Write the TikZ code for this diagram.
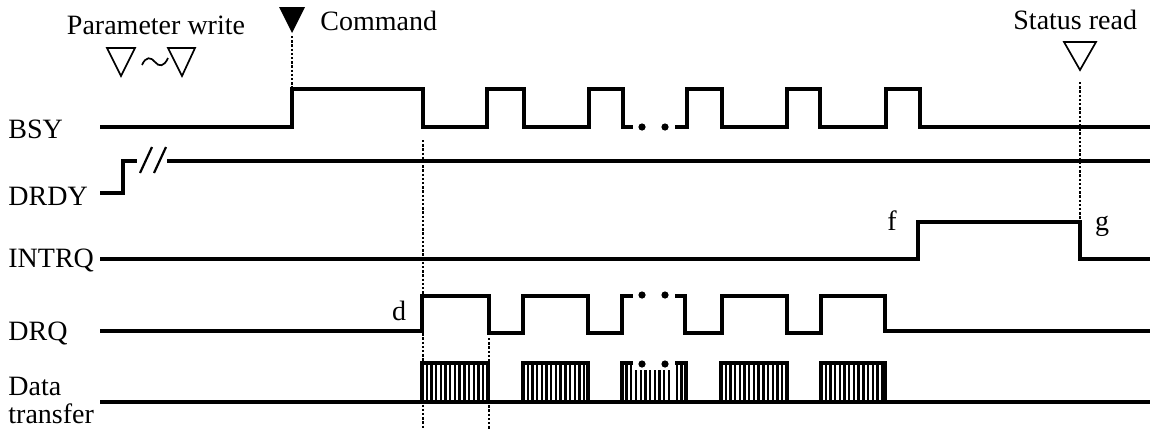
\documentclass[tikz,border=0pt]{standalone}
\usepackage{fontspec}
\setmainfont{Liberation Serif}
\begin{document}
\begin{tikzpicture}[x=0.5pt,y=-0.5pt,
  sig/.style={line width=1.6pt,line join=miter,line cap=butt},
  vdot/.style={line width=1.3pt,dash pattern=on 1.2pt off 0.9pt},
  hatch/.style={line width=1.2pt},
  mk/.style={line width=0.85pt,line join=miter},
  lbl/.style={inner sep=0pt,font=\fontsize{14}{16}\selectfont},
  dotc/.style={fill=black}]
\useasboundingbox (0,0) rectangle (1150,429);
\newcommand{\hblock}[2]{%
  \foreach \k in {1,...,13} \draw[hatch] ({#1+\k*4.7},363) -- ({#1+\k*4.7},402);
  \draw[sig] (#1,402) -- (#1,363) -- (#2,363) -- (#2,402);}
% labels
\node[lbl,anchor=base] (pw) at (156,34) {Parameter write};
\node[lbl,anchor=base west] (cmd) at (320,30) {Command};
\node[lbl,anchor=base west] (sr) at (1013,29) {Status read};
\node[lbl,anchor=base west] (bsy) at (8,138) {BSY};
\node[lbl,anchor=base west] (drdy) at (8,205) {DRDY};
\node[lbl,anchor=base west] (intrq) at (8,267) {INTRQ};
\node[lbl,anchor=base west] (drq) at (8,340) {DRQ};
\node[lbl,anchor=base west] (dt1) at (8,395) {Data};
\node[lbl,anchor=base west] (dt2) at (8,423) {transfer};
\node[lbl,anchor=base] (f) at (892,230) {f};
\node[lbl,anchor=base] (g) at (1102,230) {g};
\node[lbl,anchor=base] (d) at (399,320) {d};
% markers
\draw[mk] (107,48) -- (135,48) -- (121,76) -- cycle;
\draw[mk] (168,48) -- (195,48) -- (182,76) -- cycle;
\draw[mk] (142,65) .. controls (146,56) and (151,57) .. (155,62) .. controls (159,67) and (164,67) .. (168,58);
\fill (279,7) -- (305,7) -- (292,33) -- cycle;
\draw[mk] (1064,42) -- (1096,42) -- (1080,70) -- cycle;
% dotted lines
\draw[vdot] (292,36) -- (292,89);
\draw[vdot] (1080,82) -- (1080,222);
\draw[vdot] (423,140) -- (423,429);
\draw[vdot] (489,338) -- (489,429);
% BSY
\draw[sig] (100,127) -- (292,127) -- (292,89) -- (423,89) -- (423,127) -- (487,127) -- (487,89) -- (524,89) -- (524,127) -- (589,127) -- (589,89) -- (623,89) -- (623,127) -- (633,127);
\fill[dotc] (642,127) circle[radius=1.8pt];
\fill[dotc] (665,127) circle[radius=1.8pt];
\draw[sig] (675,127) -- (687,127) -- (687,89) -- (722,89) -- (722,127) -- (787,127) -- (787,89) -- (820,89) -- (820,127) -- (886,127) -- (886,89) -- (920,89) -- (920,127) -- (1150,127);
% DRDY
\draw[sig] (100,193) -- (123,193) -- (123,161) -- (137,161);
\draw[line width=1.1pt] (140,173) -- (152,147);
\draw[line width=1.1pt] (154,173) -- (166,147);
\draw[sig] (167,161) -- (1150,161);
% INTRQ
\draw[sig] (100,259) -- (918,259) -- (918,222) -- (1080,222) -- (1080,259) -- (1150,259);
% DRQ
\draw[sig] (100,331) -- (422,331) -- (422,296) -- (489,296) -- (489,333) -- (523,333) -- (523,296) -- (588,296) -- (588,333) -- (622,333) -- (622,296) -- (633,296);
\fill[dotc] (642,295) circle[radius=1.8pt];
\fill[dotc] (665,295) circle[radius=1.8pt];
\draw[sig] (675,296) -- (685,296) -- (685,333) -- (722,333) -- (722,296) -- (787,296) -- (787,333) -- (821,333) -- (821,296) -- (885,296) -- (885,331) -- (1150,331);
% Data transfer
\draw[sig] (100,402) -- (1150,402);
\hblock{422}{488}
\hblock{523}{588}
\hblock{721}{787}
\hblock{821}{885}
\foreach \x in {626.5,631} \draw[hatch] (\x,363) -- (\x,402);
\foreach \x in {636,640.7,...,672} \draw[hatch] (\x,370) -- (\x,402);
\foreach \x in {677,681.5} \draw[hatch] (\x,363) -- (\x,402);
\draw[sig] (622,402) -- (622,363) -- (633,363);
\draw[sig] (675,363) -- (686,363) -- (686,402);
\fill[dotc] (642,364) circle[radius=1.8pt];
\fill[dotc] (665,364) circle[radius=1.8pt];
\end{tikzpicture}
\end{document}
